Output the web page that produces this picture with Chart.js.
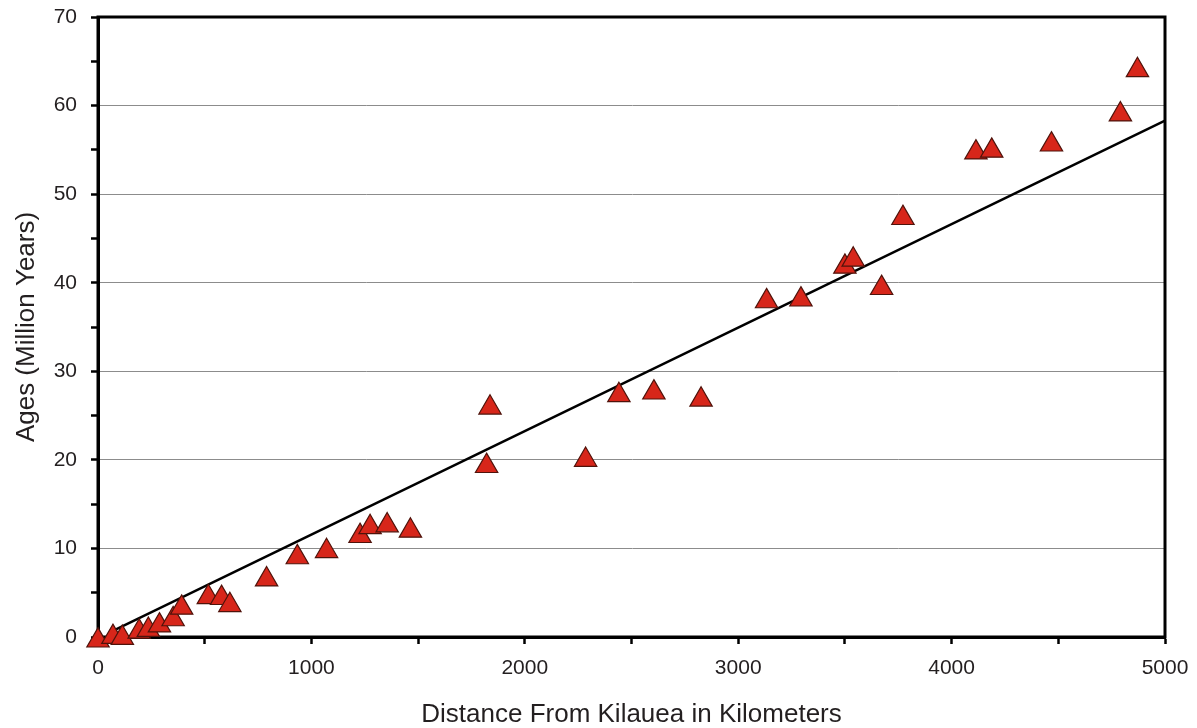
<!DOCTYPE html>
<html>
<head>
<meta charset="utf-8">
<script src="https://cdn.jsdelivr.net/npm/chart.js@4"></script>
<style>
  html, body { margin: 0; padding: 0; background: #fff; }
  #wrap { width: 1197px; height: 728px; }
</style>
</head>
<body>
<div id="wrap"><canvas id="chart"></canvas></div>
<script>
// volcano distance from Kilauea (km) vs age (million years)
const distanceKm = [0, 70, 114, 193, 236, 288, 352, 392, 517, 579, 618, 790, 934, 1071,
  1228, 1275, 1355, 1464, 1821, 1837, 2285, 2441, 2605, 2826, 3133, 3294, 3500, 3539,
  3672, 3772, 4114, 4188, 4468, 4791, 4871];
const ageMy = [-0.4, 0.0, -0.1, 0.6, 0.8, 1.3, 2.0, 3.3, 4.5, 4.4, 3.6, 6.5, 9.0, 9.7,
  11.4, 12.4, 12.6, 12.0, 19.3, 25.9, 20.0, 27.3, 27.6, 26.8, 37.9, 38.1, 41.8, 42.6,
  39.4, 47.3, 54.7, 54.9, 55.6, 59.0, 64.0];

// trend line end points
const fitX = [60, 5000];
const fitY = [0.57, 58.3];

// labelled ticks
const xLabels = [0, 1000, 2000, 3000, 4000, 5000];
const yLabels = [0, 10, 20, 30, 40, 50, 60, 70];

const points = distanceKm.map((d, i) => ({ x: d, y: ageMy[i] }));
const fitLine = fitX.map((d, i) => ({ x: d, y: fitY[i] }));

const textColor = '#231f20';
const tickFont = { family: 'Liberation Sans, Arial, sans-serif', size: 21 };
const titleFont = { family: 'Liberation Sans, Arial, sans-serif', size: 26, lineHeight: 1 };

const frame = {
  id: 'frame',
  beforeDatasetsDraw(chart) {
    const { ctx, chartArea: a } = chart;
    ctx.save();
    ctx.strokeStyle = '#000';
    ctx.lineWidth = 3;
    ctx.strokeRect(a.left, a.top, a.right - a.left, a.bottom - a.top);
    ctx.restore();
  }
};

// let the layout padding alone decide the plot edges
const noLabelPadding = (scale) => {
  scale.paddingTop = 0;
  scale.paddingBottom = 0;
  scale.paddingLeft = 0;
  scale.paddingRight = 0;
};

new Chart(document.getElementById('chart'), {
  type: 'scatter',
  data: {
    datasets: [
      {
        data: points,
        pointStyle: 'triangle',
        pointRadius: 12.9,
        pointHoverRadius: 12.9,
        backgroundColor: '#d7261a',
        borderColor: '#4f130b',
        borderWidth: 1.2,
        clip: false,
        order: 1
      },
      {
        type: 'line',
        data: fitLine,
        borderColor: '#000',
        borderWidth: 2.5,
        pointRadius: 0,
        fill: false,
        order: 2
      }
    ]
  },
  plugins: [frame],
  options: {
    responsive: true,
    maintainAspectRatio: false,
    animation: false,
    layout: { padding: { top: 17, right: 32, bottom: 0, left: 0 } },
    plugins: {
      legend: { display: false },
      tooltip: { enabled: false }
    },
    scales: {
      x: {
        type: 'linear',
        min: 0,
        max: 5000,
        afterFit(scale) { scale.height = 91; noLabelPadding(scale); },
        grid: { drawOnChartArea: false, tickColor: '#000', tickLength: 7, tickWidth: 2.5 },
        border: { color: '#000', width: 3 },
        ticks: {
          stepSize: 500,
          autoSkip: false,
          maxRotation: 0,
          padding: 12,
          color: textColor,
          font: tickFont,
          callback: (v) => xLabels.includes(v) ? String(v) : ''
        },
        title: {
          display: true,
          text: 'Distance From Kilauea in Kilometers',
          color: textColor,
          font: titleFont,
          padding: { top: 0, bottom: 0 }
        }
      },
      y: {
        type: 'linear',
        min: 0,
        max: 70,
        afterFit(scale) { scale.width = 98; noLabelPadding(scale); },
        grid: {
          color: (c) => (c.tick && c.tick.value % 10 === 0 && c.tick.value > 0 && c.tick.value < 70) ? '#8c8c8c' : 'rgba(0,0,0,0)',
          lineWidth: 1,
          tickColor: '#000',
          tickLength: 7,
          tickWidth: 2.5
        },
        border: { color: '#000', width: 3 },
        ticks: {
          stepSize: 5,
          autoSkip: false,
          padding: 14,
          color: textColor,
          font: tickFont,
          callback: (v) => yLabels.includes(v) ? String(v) : ''
        },
        title: {
          display: true,
          text: 'Ages (Million Years)',
          color: textColor,
          font: titleFont,
          padding: { top: 14, bottom: 0 }
        }
      }
    }
  }
});
</script>
</body>
</html>
